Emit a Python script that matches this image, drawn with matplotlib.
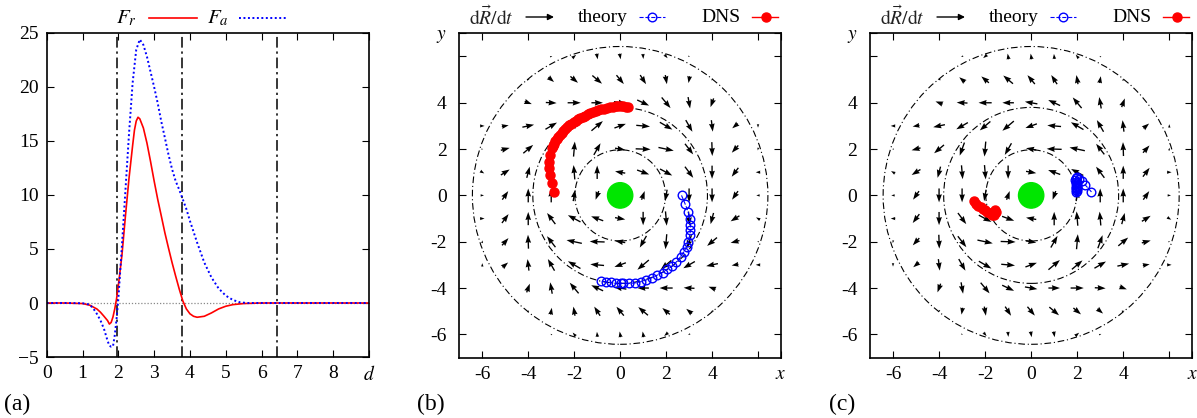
import numpy as np
import matplotlib
matplotlib.use('Agg')
import matplotlib.pyplot as plt
from matplotlib.patches import Circle
from matplotlib.lines import Line2D

plt.rcParams['font.family'] = ['Liberation Serif', 'DejaVu Serif']
plt.rcParams['mathtext.fontset'] = 'stix'
plt.rcParams['font.size'] = 13

n = np.nan

# ---- panel (a): force profiles ----
d_r = [0, 0.5, 1.0, 1.2, 1.4, 1.5, 1.6, 1.7, 1.75, 1.8, 1.85, 1.9, 1.95, 2.0, 2.1, 2.2, 2.3,
       2.4, 2.45, 2.5, 2.55, 2.6, 2.7, 2.8, 2.9, 3.0, 3.1, 3.2, 3.3, 3.4, 3.5, 3.6, 3.7, 3.8,
       3.9, 4.0, 4.1, 4.2, 4.4, 4.6, 4.8, 5.0, 5.2, 5.5, 6.0, 9.0]
F_r = [0, 0, -0.05, -0.2, -0.55, -0.85, -1.23, -1.63, -1.95, -1.8, -1.3, -0.55, 0.37, 1.6,
       4.4, 8.1, 11.6, 14.6, 16.0, 16.85, 17.2, 17.05, 16.2, 14.8, 13.1, 11.3, 9.6, 8.06,
       6.5, 5.1, 3.75, 2.5, 1.3, 0.2, -0.55, -1.0, -1.23, -1.32, -1.23, -0.92, -0.55, -0.3,
       -0.15, -0.05, 0, 0]
d_a = [0, 0.5, 1.0, 1.2, 1.3, 1.4, 1.5, 1.6, 1.7, 1.75, 1.8, 1.85, 1.9, 1.95, 2.0, 2.05, 2.1,
       2.2, 2.3, 2.4, 2.5, 2.6, 2.7, 2.8, 2.9, 3.0, 3.1, 3.2, 3.3, 3.4, 3.5, 3.6, 3.7, 3.8,
       3.9, 4.0, 4.2, 4.4, 4.6, 4.8, 5.0, 5.2, 5.4, 5.6, 9.0]
F_a = [0, 0, -0.02, -0.15, -0.5, -1.0, -1.6, -2.4, -3.5, -3.95, -4.05, -4.03, -3.0, -1.5,
       0.37, 2.8, 5.3, 10.5, 15.75, 20.4, 23.45, 24.4, 23.9, 22.8, 21.4, 20.0, 18.5, 16.8,
       15.3, 13.75, 12.4, 11.3, 10.5, 9.6, 8.7, 7.6, 5.6, 3.75, 2.37, 1.35, 0.68, 0.28,
       0.06, 0, 0]
d_marks = [1.97, 3.77, 6.42]

# ---- panels (b),(c): velocity field on the integer grid, rows y=6..-6, cols x=-6..6 ----
grid = list(range(-6, 7))
b_ang = [
    [n, n, n, 20, 40, -80, -80, -85, -50, -30, n, n, n],
    [n, n, 10, -40, -40, -40, -50, -57, -80, -100, -120, n, n],
    [n, n, -20, -3, 0, 0, -10, -25, -50, -80, -110, n, n],
    [0, 10, 12, 30, 40, 40, 20, -5, -30, -60, -83, -140, -90],
    [0, 15, 40, 70, 85, 60, -10, -2, -12, -52, -88, -132, -100],
    [-30, 32, 75, 95, 95, 90, 170, -20, -28, -53, -90, -127, 180],
    [0, 55, 90, 90, 80, -110, n, 70, -100, -90, -90, -125, 180],
    [0, 53, 90, 127, 152, 160, -10, -90, -85, -85, -105, -148, 150],
    [80, 48, 92, 128, 168, 178, 170, -120, -95, -110, -140, -165, 180],
    [90, 40, 97, 120, 150, 175, -160, -140, -140, -150, -168, -170, 180],
    [n, n, 70, 100, 130, 155, 170, 180, 180, 177, 160, n, n],
    [n, n, 60, 80, 100, 123, 130, 140, 140, 140, -170, n, n],
    [n, n, n, 150, 130, 95, 100, 100, -140, -160, n, n, n],
]
b_len = [
    [n, n, n, .1, .22, .25, .25, .22, .2, .08, n, n, n],
    [n, n, .12, .32, .43, .55, .5, .47, .4, .3, .1, n, n],
    [n, n, .33, .47, .57, .5, .55, .57, .6, .5, .4, n, n],
    [.2, .3, .52, .58, .6, .65, .53, .6, .63, .58, .5, .32, .15],
    [.08, .4, .56, .6, .65, .58, .45, .65, .68, .58, .6, .42, .12],
    [.2, .45, .5, .6, .62, .58, .45, .56, .6, .6, .57, .48, .2],
    [.15, .45, .6, .6, .5, .4, n, .4, .5, .6, .6, .45, .15],
    [.2, .48, .57, .6, .62, .56, .45, .58, .62, .6, .5, .45, .2],
    [.12, .42, .6, .6, .68, .65, .45, .58, .65, .6, .56, .4, .08],
    [.15, .32, .5, .58, .63, .6, .53, .65, .6, .58, .52, .3, .2],
    [n, n, .4, .5, .6, .57, .55, .5, .57, .47, .33, n, n],
    [n, n, .1, .3, .4, .47, .5, .55, .43, .32, .12, n, n],
    [n, n, n, .08, .2, .22, .25, .25, .22, .1, n, n, n],
]
# in panel (c) every arrow points the other way
c_flip = 180
ring_radii = [1.97, 3.8, 6.43]

# trajectories
b_dns_x = [-2.86, -2.98, -3.05, -3.08, -3.08, -3.05, -2.98, -2.93, -2.88, -2.82, -2.76, -2.69,
           -2.62, -2.55, -2.47, -2.39, -2.3, -2.21, -2.12, -2.03, -1.93, -1.83, -1.73, -1.63,
           -1.52, -1.41, -1.3, -1.19, -1.07, -0.95, -0.83, -0.71, -0.58, -0.46, -0.33, -0.2,
           -0.08, 0.03, 0.14, 0.24, 0.32]
b_dns_y = [0.16, 0.55, 0.88, 1.17, 1.46, 1.74, 2.03, 2.13, 2.22, 2.33, 2.43, 2.53, 2.62, 2.71,
           2.79, 2.87, 2.95, 3.02, 3.09, 3.16, 3.22, 3.28, 3.34, 3.4, 3.45, 3.5, 3.55, 3.59,
           3.63, 3.67, 3.71, 3.74, 3.77, 3.8, 3.82, 3.84, 3.85, 3.86, 3.85, 3.83, 3.81]
b_th_x = [2.67, 2.82, 2.96, 3.03, 3.06, 3.06, 3.03, 2.96, 2.89, 2.77, 2.63, 2.45, 2.27, 2.05,
          1.85, 1.62, 1.37, 1.12, 0.89, 0.64, 0.4, 0.14, 0.02, -0.2, -0.41, -0.63, -0.85]
b_th_y = [0.0, -0.35, -0.71, -1.0, -1.28, -1.5, -1.71, -2.0, -2.22, -2.44, -2.65, -2.87, -3.04,
          -3.18, -3.33, -3.44, -3.56, -3.66, -3.73, -3.78, -3.8, -3.8, -3.8, -3.8, -3.76,
          -3.73, -3.7]
c_dns_x = [-2.5, -2.4, -2.3, -2.2, -2.1, -2.0, -1.9, -1.8, -1.7, -1.6, -1.55, -1.52, -1.55]
c_dns_y = [-0.26, -0.36, -0.44, -0.52, -0.59, -0.65, -0.71, -0.78, -0.84, -0.84, -0.78, -0.7,
           -0.64]
c_th_x = [2.62, 2.35, 2.2, 2.08, 1.98, 1.93, 1.92, 1.93, 1.95, 1.97, 1.99, 2.0, 1.98, 1.96,
          1.94, 1.93, 1.95, 1.97, 1.99]
c_th_y = [0.15, 0.45, 0.62, 0.72, 0.78, 0.74, 0.66, 0.58, 0.5, 0.42, 0.34, 0.26, 0.18, 0.14,
          0.22, 0.3, 0.38, 0.46, 0.54]

W, H = 1197, 418
fig = plt.figure(figsize=(W / 100, H / 100), dpi=100)


def px_axes(left, top, right, bottom):
    return fig.add_axes([left / W, 1 - bottom / H, (right - left) / W, (bottom - top) / H])


def style(ax):
    ax.tick_params(direction='in', top=True, right=True, length=5, width=0.8,
                   labelsize=14, pad=6)
    for s in ax.spines.values():
        s.set_linewidth(1.2)


# panel (a)
ax = px_axes(46.7, 33, 369, 357)
ax.axhline(0, color='#888888', ls=(0, (1, 1.5)), lw=0.9)
for dm in d_marks:
    ax.axvline(dm, color='k', lw=1.1, ls=(0, (7, 2.5, 1.5, 2.5)))
ax.plot(d_r, F_r, color='red', lw=1.2)
ax.plot(d_a, F_a, color='blue', lw=1.4, ls=(0, (1, 1.3)))
ax.set_xlim(0, 9)
ax.set_ylim(-5, 25)
ax.set_xticks(range(10))
ax.set_xticklabels([str(i) for i in range(9)] + ['$d$'])
ax.set_yticks(range(-5, 26, 5))
style(ax)

# legend (a)
fig.text(137 / W, 1 - 18 / H, '$F_r$', ha='right', va='center', fontsize=15)
fig.add_artist(Line2D([149 / W, 197 / W], [1 - 18 / H] * 2, color='red', lw=1.2))
fig.text(229 / W, 1 - 18 / H, '$F_a$', ha='right', va='center', fontsize=15)
fig.add_artist(Line2D([239 / W, 287 / W], [1 - 18 / H] * 2, color='blue', lw=1.4,
                      ls=(0, (1, 1.3))))


def field_panel(left, right, ang_shift, dns_x, dns_y, th_x, th_y, leg_x0):
    ax = px_axes(left, 33.3, right, 357.5)
    X, Y = np.meshgrid(grid, grid[::-1])
    A = np.radians(np.array(b_ang, float) + ang_shift)
    L = np.array(b_len, float)
    m = ~np.isnan(L)
    ax.quiver(X[m], Y[m], (L * np.cos(A))[m], (L * np.sin(A))[m], angles='xy',
              scale_units='xy', scale=1, pivot='middle', width=0.0042, headwidth=4.2,
              headlength=6, headaxislength=5.5, color='k', zorder=2)
    for r in ring_radii:
        ax.add_patch(Circle((0, 0), r, fill=False, color='k', lw=0.8,
                            ls=(0, (6, 2.5, 1, 2.5)), zorder=1))
    ax.add_patch(Circle((0, 0), 0.55, color='#00e600', zorder=3))
    ax.plot(th_x, th_y, color='blue', lw=0.8, ls='--', marker='o', ms=6.2, mfc='none',
            mew=1.0, zorder=4)
    ax.plot(dns_x, dns_y, color='red', lw=1, marker='o', ms=6.5, zorder=5)
    ax.set_xlim(-7, 7)
    ax.set_ylim(-7, 7)
    ax.set_xticks([-6, -4, -2, 0, 2, 4, 6, 7])
    ax.set_xticklabels(['-6', '-4', '-2', '0', '2', '4', '', '$x$'])
    ax.set_yticks([-6, -4, -2, 0, 2, 4, 6, 7])
    ax.set_yticklabels(['-6', '-4', '-2', '0', '2', '4', '', '$y$'])
    style(ax)
    ax.tick_params(axis='y', pad=9)

    # legend row
    yl = 1 - 17 / H
    fig.text((leg_x0 + 48) / W, yl, r'$\mathrm{d}\vec{R}/\mathrm{d}t$', ha='right',
             va='center', fontsize=14, color='#222222')
    ax.annotate('', xy=((leg_x0 + 88) / W, yl), xytext=((leg_x0 + 60) / W, yl),
                xycoords='figure fraction', textcoords='figure fraction',
                arrowprops=dict(arrowstyle='-|>', color='k', lw=1, mutation_scale=9,
                                shrinkA=0, shrinkB=0))
    fig.text((leg_x0 + 162) / W, yl, 'theory', ha='right', va='center', fontsize=14)
    fig.add_artist(Line2D([(leg_x0 + 173) / W, (leg_x0 + 199) / W], [yl] * 2, color='blue',
                          lw=0.8, ls='--'))
    fig.add_artist(Line2D([(leg_x0 + 186) / W], [yl], color='blue', marker='o', ms=6.2,
                          mfc='none', mew=1.0))
    fig.text((leg_x0 + 275) / W, yl, 'DNS', ha='right', va='center', fontsize=14)
    fig.add_artist(Line2D([(leg_x0 + 286) / W, (leg_x0 + 312) / W], [yl] * 2, color='red',
                          lw=1))
    fig.add_artist(Line2D([(leg_x0 + 300) / W], [yl], color='red', marker='o', ms=6.5))
    return ax


field_panel(459.3, 781, 0, b_dns_x, b_dns_y, b_th_x, b_th_y, 466)
field_panel(870, 1192.3, c_flip, c_dns_x, c_dns_y, c_th_x, c_th_y, 877)

for xp, lab in [(4, '(a)'), (417, '(b)'), (829, '(c)')]:
    fig.text(xp / W, 1 - 404 / H, lab, ha='left', va='center', fontsize=17)

fig.savefig('out.png', dpi=100)
